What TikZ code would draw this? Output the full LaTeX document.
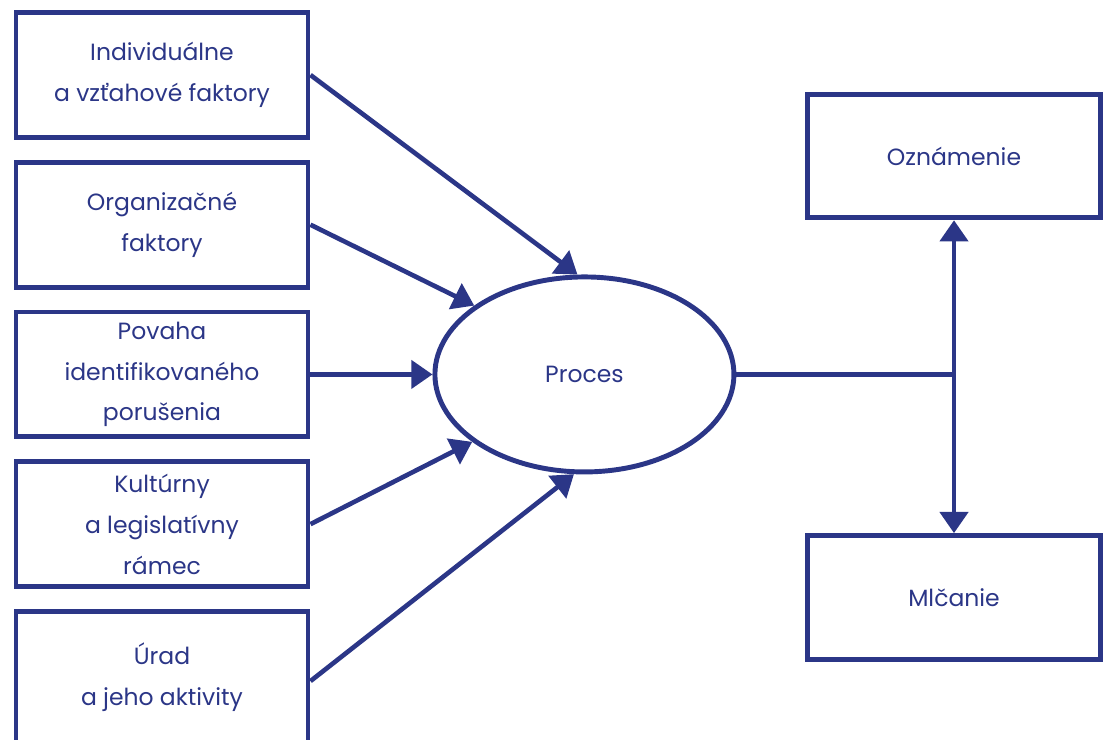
\documentclass[tikz,border=0pt]{standalone}
\usepackage{fontspec}
\setmainfont{Poppins}
\usepackage{tikz}
\usetikzlibrary{positioning, arrows.meta, shapes.geometric}
\definecolor{navy}{HTML}{2B3687}

\begin{document}
\begin{tikzpicture}[
  font=\fontsize{16.7}{29}\selectfont,
  box/.style={draw=navy, line width=3.5pt, fill=white, text=navy, minimum width=7.3cm, minimum height=3.12cm, align=center, inner sep=2pt},
  outbox/.style={draw=navy, line width=3.5pt, fill=white, text=navy, minimum width=7.34cm, minimum height=3.09cm, align=center},
  proc/.style={draw=navy, ellipse, line width=3.5pt, text=navy, minimum width=7.475cm, minimum height=4.875cm},
  a/.style={-{Triangle[length=0.53cm, width=0.7cm]}, navy, line width=3.3pt}
]
\useasboundingbox (0,0) rectangle (27.775,18.475);
\node[box] (b1) at (4.05,16.6) {Individuálne\\a vzťahové faktory};
\node[box, below=0.5cm of b1] (b2) {Organizačné\\faktory};
\node[box, below=0.5cm of b2] (b3) {Povaha\\identifikovaného\\porušenia};
\node[box, below=0.5cm of b3] (b4) {Kultúrny\\a legislatívny\\rámec};
\node[box, minimum height=3.3cm, below=0.5cm of b4] (b5) {Úrad\\a jeho aktivity};
\node[proc, right=3.05cm of b3] (p) {Proces};
\node[outbox] (ozn) at (23.85,14.575) {Oznámenie};
\node[outbox] (mlc) at (23.85,3.54) {Mlčanie};
\foreach \n/\ang in {b1/94,b2/148,b3/180,b4/211} \draw[a] (\n.east)--(p.\ang);
\draw[a] ([yshift=-0.09cm]b5.east)--(p.264);
\coordinate (j) at (p.east -| ozn.south);
\draw[navy, line width=3.3pt] (p.east)--(j);
\draw[a] (j)--(ozn.south);
\draw[a] (j)--(mlc.north);
\end{tikzpicture}
\end{document}
